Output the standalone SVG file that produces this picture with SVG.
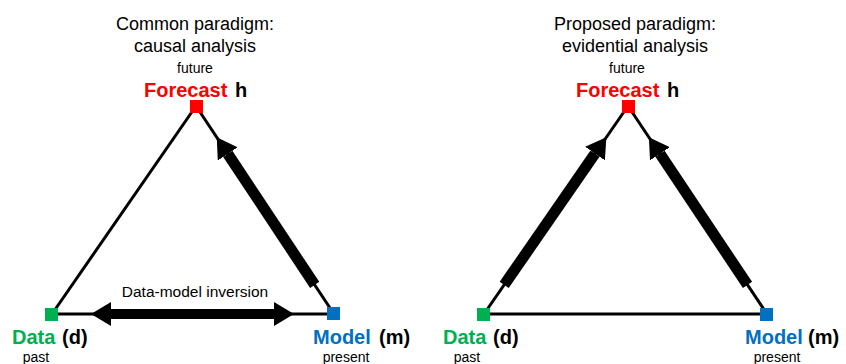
<svg xmlns="http://www.w3.org/2000/svg" width="846" height="364" viewBox="0 0 846 364">
  <style>
    .title { font-family: "Liberation Sans", Arial, sans-serif; font-size: 18px; fill: #000; text-anchor: middle; }
    .small { font-family: "Liberation Sans", Arial, sans-serif; font-size: 14px; fill: #000; text-anchor: middle; }
    .lbl { font-family: "Liberation Sans", Arial, sans-serif; font-size: 20px; font-weight: bold; fill: #000; }
    .note { font-family: "Liberation Sans", Arial, sans-serif; font-size: 15.5px; fill: #000; text-anchor: middle; }
    .red { fill: #FF0000; }
    .green { fill: #00B050; }
    .blue { fill: #0070C0; }
    .edge { stroke: #000; stroke-width: 3; fill: none; }
    .thick { stroke: #000; stroke-width: 11; fill: none; marker-end: url(#head); }
    .both { stroke: #000; stroke-width: 10; fill: none; marker-start: url(#head); marker-end: url(#head); }
  </style>
  <defs>
    <marker id="head" markerUnits="userSpaceOnUse" markerWidth="20" markerHeight="24" viewBox="0 0 20 24" refX="0" refY="12" orient="auto-start-reverse">
      <path d="M0,0 L20,12 L0,24 Z" fill="#000"/>
    </marker>
  </defs>

  <!-- titles -->
  <text class="title" x="195" y="30">Common paradigm:</text>
  <text class="title" x="195" y="52">causal analysis</text>
  <text class="title" x="635" y="30">Proposed paradigm:</text>
  <text class="title" x="635" y="52">evidential analysis</text>

  <!-- connectors -->
  <g id="connectors">
    <!-- causal triangle -->
    <line class="edge" x1="196" y1="106" x2="52" y2="314"/>
    <line class="edge" x1="196" y1="106" x2="334" y2="314"/>
    <line class="edge" x1="52" y1="314" x2="334" y2="314"/>
    <line class="thick" x1="314.7" y1="284.9" x2="227.8" y2="153.9"/>
    <line class="both" x1="111" y1="314" x2="274" y2="314"/>
    <!-- evidential triangle -->
    <line class="edge" x1="628" y1="106" x2="484" y2="314"/>
    <line class="edge" x1="628" y1="106" x2="767" y2="314"/>
    <line class="edge" x1="484" y1="314" x2="767" y2="314"/>
    <line class="thick" x1="504.2" y1="284.9" x2="595.0" y2="153.6"/>
    <line class="thick" x1="747.5" y1="284.9" x2="660.0" y2="153.8"/>
  </g>
  <text class="note" x="195" y="297">Data-model inversion</text>

  <!-- causal nodes -->
  <g id="forecast-causal">
    <rect class="red" x="190" y="100" width="13" height="13"/>
    <text class="small" x="195" y="73">future</text>
    <text class="lbl red" x="144" y="97">Forecast</text>
    <text class="lbl" x="235" y="97">h</text>
  </g>
  <g id="data-causal">
    <rect class="green" x="45" y="308" width="13" height="13"/>
    <text class="lbl green" x="12" y="344">Data</text>
    <text class="lbl" x="62" y="344">(d)</text>
    <text class="small" x="36" y="362">past</text>
  </g>
  <g id="model-causal">
    <rect class="blue" x="327" y="307" width="13" height="13"/>
    <text class="lbl blue" x="313" y="344">Model</text>
    <text class="lbl" x="379" y="344">(m)</text>
    <text class="small" x="346" y="362">present</text>
  </g>

  <!-- evidential nodes -->
  <g id="forecast-evidential">
    <rect class="red" x="622" y="100" width="13" height="13"/>
    <text class="small" x="627" y="73">future</text>
    <text class="lbl red" x="576" y="97">Forecast</text>
    <text class="lbl" x="667" y="97">h</text>
  </g>
  <g id="data-evidential">
    <rect class="green" x="477" y="308" width="13" height="13"/>
    <text class="lbl green" x="443" y="344">Data</text>
    <text class="lbl" x="493" y="344">(d)</text>
    <text class="small" x="467" y="362">past</text>
  </g>
  <g id="model-evidential">
    <rect class="blue" x="760" y="308" width="13" height="13"/>
    <text class="lbl blue" x="745" y="344">Model</text>
    <text class="lbl" x="808" y="344">(m)</text>
    <text class="small" x="777" y="362">present</text>
  </g>
</svg>
